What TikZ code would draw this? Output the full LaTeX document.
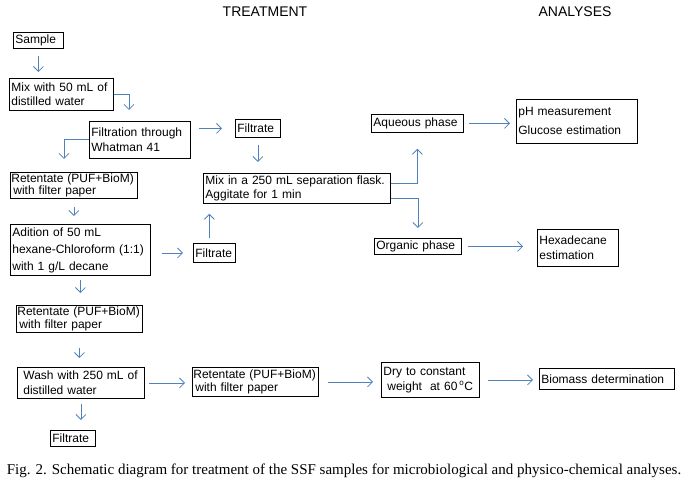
\documentclass[tikz,border=0pt]{standalone}
\usepackage{fontspec}
\setmainfont{Liberation Sans}
\newfontfamily\capfont{Liberation Serif}
\usetikzlibrary{arrows.meta}
\definecolor{arrowblue}{RGB}{79,129,189}
\tikzset{
  box/.style={draw, line width=0.8pt, anchor=north west, align=left, inner xsep=2pt, inner ysep=1pt,
    font=\fontsize{12}{14.5}\selectfont},
  retbox/.style={box, inner xsep=1pt, font=\fontsize{12}{12.5}\selectfont},
  flow/.style={->, arrowblue, line width=0.8pt},
  title/.style={font=\fontsize{14}{16}\selectfont}
}
\begin{document}
\begin{tikzpicture}[x=1pt, y=-1pt, >={Straight Barb[length=5pt,width=10pt]}]
    \useasboundingbox (0,0) rectangle (688,481);
    \node[title] (treat) at (265, 12) {TREATMENT}; \node[title] (anal) at (575, 12) {ANALYSES};

    \node[box, text width=46, minimum height=16] (sample) at (13, 32) {Sample};
    \node[box, text width=100, minimum height=32] (mix) at (9, 78) {Mix with 50 mL of\\distilled water};
    \node[box, text width=97, minimum height=37] (filt) at (89, 121) {Filtration through\\Whatman 41};
    \node[box, text width=41, minimum height=18] (filtA) at (235, 119) {Filtrate};
    \node[retbox, text width=125, minimum height=25] (ret1) at (10, 172) {Retentate (PUF+BioM)\\\hspace{2pt}with filter paper};
    \node[box, text width=136, minimum height=51, font=\fontsize{12}{17}\selectfont] (adit) at (10, 224) {Adition of 50 mL\\hexane-Chloroform (1:1)\\with 1 g/L decane};
    \node[box, text width=38, minimum height=19] (filtB) at (193, 243) {Filtrate};
    \node[box, text width=183, minimum height=30] (sep) at (203, 173) {Mix in a 250 mL separation flask.\\Aggitate for 1 min};
    \node[box, text width=88, minimum height=18] (aq) at (371, 114) {Aqueous phase};
    \node[box, text width=117, minimum height=44, font=\fontsize{12}{19}\selectfont] (ph) at (516, 99) {pH measurement\\Glucose estimation};
    \node[box, text width=83, minimum height=16] (org) at (374, 238) {Organic phase};
    \node[box, text width=77, minimum height=37] (hexa) at (537, 229) {Hexadecane\\estimation};
    \node[retbox, text width=124, minimum height=27] (ret2) at (16, 305) {Retentate (PUF+BioM)\\\hspace{2pt}with filter paper};
    \node[box, text width=123, minimum height=31] (wash) at (17, 367) {\ Wash with 250 mL of\\\ distilled water};
    \node[retbox, text width=124, minimum height=29] (ret3) at (192, 367) {Retentate (PUF+BioM)\\\hspace{2pt}with filter paper};
    \node[box, text width=94, minimum height=35, font=\fontsize{12}{15}\selectfont] (dry) at (381, 362) {Dry to constant\\\hspace{4pt}weight\ \ at 60\,\textsuperscript{o}C};
    \node[box, text width=131, minimum height=21] (bio) at (539, 368) {Biomass determination};
    \node[box, text width=41, minimum height=16] (filtC) at (50, 430) {Filtrate};

    \draw[flow, shorten <=7, shorten >=6] (sample.south) -- (sample.south |- mix.north);
    \draw[flow, shorten >=11] (mix.east) -| ([xshift=40]filt.north west);
    \draw[flow, shorten <=8, shorten >=13] (filt.east |- filtA.west) -- (filtA.west);
    \draw[flow, shorten <=7, shorten >=11] (filtA.south) -- (filtA.south |- sep.north);
    \draw[flow, shorten >=13] (filt.west) -| ([xshift=54]ret1.north west);
    \draw[flow, shorten <=9, shorten >=8] (ret1.south) -- (ret1.south |- adit.north);
    \draw[flow, shorten <=11, shorten >=10] (adit.east |- filtB.west) -- (filtB.west);
    \draw[flow, shorten <=5, shorten >=10] ([xshift=-5]filtB.north) -- ([xshift=-5]filtB.north |- sep.south);
    \draw[flow, shorten <=4, shorten >=12] (adit.south) -- (adit.south |- ret2.north);
    \draw[flow, shorten <=15, shorten >=9] (ret2.south) -- (ret2.south |- wash.north);
    \draw[flow, shorten <=4, shorten >=7] (wash.east) -- (wash.east -| ret3.west);
    \draw[flow, shorten <=9, shorten >=8] (ret3.east) -- (ret3.east -| dry.west);
    \draw[flow, shorten <=8, shorten >=6] (dry.east) -- (dry.east -| bio.west);
    \draw[flow, shorten <=5, shorten >=10] (wash.south) -- (wash.south |- filtC.north);
    \draw[flow, shorten >=16] ([yshift=5]sep.east) -| (aq.south);
    \draw[flow, shorten >=10] ([yshift=-10]sep.east) -| (org.north);
    \draw[flow, shorten <=5, shorten >=6] (aq.east) -- (aq.east -| ph.west);
    \draw[flow, shorten <=6, shorten >=14] (org.east) -- (org.east -| hexa.west);

    \node[font=\capfont\fontsize{15}{17}\selectfont] (caption) at (344, 471) {Fig. 2. Schematic diagram for treatment of the SSF samples for microbiological and physico-chemical analyses.};
\end{tikzpicture}
\end{document}
